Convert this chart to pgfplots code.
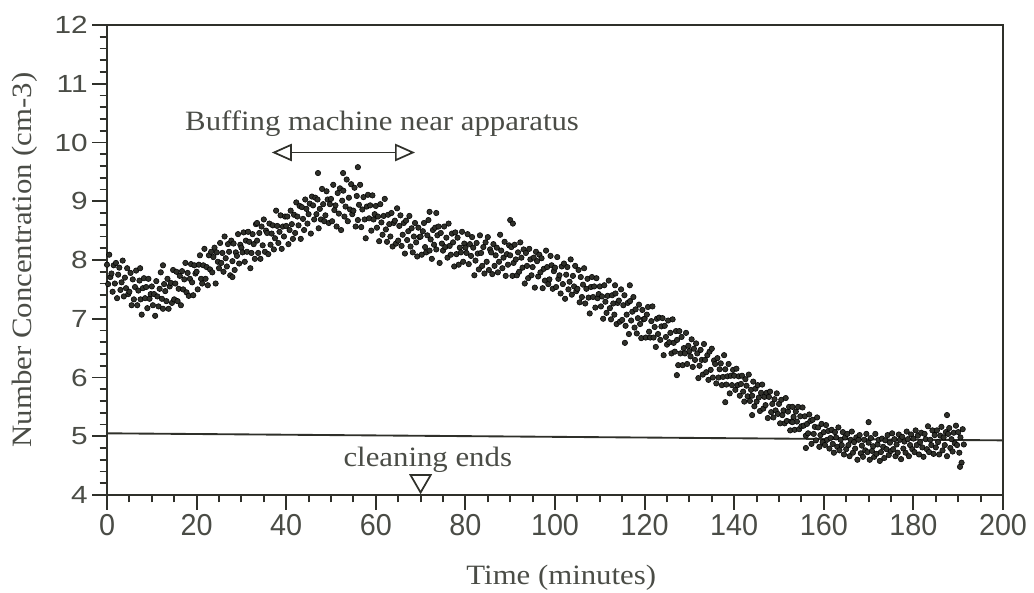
\documentclass[border=0pt]{standalone}
\usepackage{fontspec}
\setmainfont{Liberation Serif}
\newfontfamily\serifw{Liberation Serif}[FakeStretch=1.1]
\newfontfamily\yticksf{Liberation Sans}[FakeStretch=1.2]
\newfontfamily\xticksf{Liberation Sans}[FakeStretch=0.95]
\usepackage{pgfplots}
\pgfplotsset{compat=1.18}
\usetikzlibrary{arrows.meta}
\definecolor{ink}{HTML}{2F302A}
\definecolor{txt}{HTML}{4A4C46}
\begin{document}
\begin{tikzpicture}
\begin{axis}[
  at={(0,0)}, anchor=south west,
  width=672pt, height=352.5pt, scale only axis,
  xmin=0, xmax=200, ymin=4, ymax=12,
  xtick={0,20,...,200}, ytick={4,5,...,12},
  minor x tick num=3, minor y tick num=4,
  xtick pos=bottom, ytick pos=left,
  tick align=outside,
  major tick length=11pt, minor tick length=5.5pt,
  every tick/.style={ink, line width=1.4pt},
  axis line style={ink, line width=1.4pt},
  /pgf/number format/assume math mode=true,
  xticklabel style={font=\xticksf\fontsize{22.7}{24}\selectfont, text=txt},
  yticklabel style={font=\yticksf\fontsize{18.6}{20}\selectfont, text=txt},
  xlabel={Time (minutes)},
  ylabel={Number Concentration (cm-3)},
  label style={font=\serifw\fontsize{21}{23}\selectfont, text=txt},
  xlabel style={at={(axis description cs:0.507,-0.1766)}, anchor=center},
  ylabel style={at={(axis description cs:-0.0915,0.5)}, anchor=center, rotate=0},
  clip=false,
]
\addplot[ink, line width=1.4pt] coordinates {(0,5.05) (200,4.93)};
\addplot[only marks, mark=*, mark size=2.05pt, mark options={draw=none, fill=ink}] coordinates {
(0,7.92)(0.25,7.59)(0.5,8.09)(0.75,7.71)(1,7.77)(1.25,7.46)(1.5,7.91)(1.75,7.60)(2,7.95)(2.25,7.35)(2.5,7.75)(2.75,7.87)(3,7.49)(3.25,7.62)(3.5,7.99)(3.75,7.38)(4,7.70)(4.25,7.52)(4.5,7.86)(4.75,7.42)
(5,7.46)(5.25,7.78)(5.5,7.23)(5.75,7.67)(6,7.33)(6.25,7.54)(6.5,7.82)(6.75,7.23)(7,7.48)(7.25,7.65)(7.5,7.33)(7.75,7.07)(8,7.52)(8.25,7.69)(8.5,7.35)(8.75,7.54)(9,7.18)(9.25,7.68)(9.5,7.34)(9.75,7.42)
(10,7.55)(10.25,7.23)(10.5,7.42)(10.75,7.05)(11,7.64)(11.25,7.38)(11.5,7.21)(11.75,7.51)(12,7.79)(12.25,7.34)(12.5,7.17)(12.75,7.59)(13,7.47)(13.25,7.30)(13.5,7.68)(13.75,7.17)(14,7.55)(14.25,7.61)(14.5,7.27)(14.75,7.83)
(15,7.33)(15.25,7.60)(15.5,7.80)(15.75,7.30)(16,7.51)(16.25,7.73)(16.5,7.23)(16.75,7.81)(17,7.50)(17.25,7.67)(17.5,7.95)(17.75,7.45)(18,7.78)(18.25,7.39)(18.5,7.68)(18.75,7.93)(19,7.62)(19.25,7.40)(19.5,7.91)(19.75,7.77)
(20,7.80)(20.25,7.50)(20.5,7.92)(20.75,8.08)(21,7.68)(21.25,7.60)(21.5,7.91)(21.75,8.19)(22,7.68)(22.25,7.88)(22.5,7.57)(22.75,8.08)(23,7.84)(23.25,8.14)(23.5,7.79)(23.75,8.05)(24,8.21)(24.25,7.60)(24.5,8.13)(24.75,7.97)
(25,7.86)(25.25,8.29)(25.5,7.95)(25.75,8.12)(26,7.80)(26.25,8.40)(26.5,8.03)(26.75,7.89)(27,8.27)(27.25,8.14)(27.5,7.74)(27.75,8.33)(28,7.98)(28.25,8.28)(28.5,7.83)(28.75,8.13)(29,8.07)(29.25,8.44)(29.5,7.94)(29.75,8.26)
(30,8.21)(30.25,8.13)(30.5,8.47)(30.75,7.97)(31,8.33)(31.25,8.14)(31.5,8.48)(31.75,8.31)(32,7.86)(32.25,8.12)(32.5,8.44)(32.75,8.27)(33,8.02)(33.25,8.61)(33.5,8.33)(33.75,8.12)(34,8.46)(34.25,8.02)(34.5,8.57)(34.75,8.25)
(35,8.69)(35.25,8.14)(35.5,8.50)(35.75,8.46)(36,8.10)(36.25,8.62)(36.5,8.26)(36.75,8.45)(37,8.59)(37.25,8.18)(37.5,8.37)(37.75,8.84)(38,8.58)(38.25,8.29)(38.5,8.48)(38.75,8.76)(39,8.19)(39.25,8.57)(39.5,8.40)(39.75,8.74)
(40,8.58)(40.25,8.74)(40.5,8.27)(40.75,8.51)(41,8.84)(41.25,8.61)(41.5,8.36)(41.75,8.77)(42,8.46)(42.25,8.98)(42.5,8.74)(42.75,8.59)(43,8.92)(43.25,8.36)(43.5,8.90)(43.75,8.70)(44,8.51)(44.25,9.03)(44.5,8.87)(44.75,8.62)
(45,8.78)(45.25,8.96)(45.5,8.45)(45.75,9.08)(46,8.93)(46.25,8.69)(46.5,9.06)(46.75,8.78)(47,9.03)(47.25,8.54)(47.5,8.87)(47.75,8.69)(48,9.21)(48.25,8.95)(48.5,8.66)(48.75,8.76)(49,9.17)(49.25,9.03)(49.5,8.63)(49.75,8.95)
(50,9.04)(50.25,8.66)(50.5,9.28)(50.75,8.85)(51,8.93)(51.25,8.57)(51.5,9.14)(51.75,8.79)(52,9.22)(52.25,8.51)(52.5,9.01)(52.75,9.18)(53,8.74)(53.25,8.91)(53.5,9.37)(53.75,8.66)(54,9.06)(54.25,8.86)(54.5,9.29)(54.75,8.78)
(55,8.84)(55.25,9.23)(55.5,8.57)(55.75,9.09)(56,8.68)(56.25,8.94)(56.5,9.28)(56.75,8.56)(57,8.86)(57.25,9.07)(57.5,8.69)(57.75,8.37)(58,8.91)(58.25,9.11)(58.5,8.71)(58.75,8.93)(59,8.50)(59.25,9.10)(59.5,8.69)(59.75,8.78)
(60,8.92)(60.25,8.55)(60.5,8.74)(60.75,8.32)(61,8.95)(61.25,8.64)(61.5,8.43)(61.75,8.75)(62,9.04)(62.25,8.52)(62.5,8.31)(62.75,8.77)(63,8.61)(63.25,8.40)(63.5,8.80)(63.75,8.23)(64,8.63)(64.25,8.67)(64.5,8.28)(64.75,8.88)
(65,8.33)(65.25,8.58)(65.5,8.76)(65.75,8.24)(66,8.43)(66.25,8.63)(66.5,8.11)(66.75,8.67)(67,8.34)(67.25,8.49)(67.5,8.75)(67.75,8.23)(68,8.54)(68.25,8.13)(68.5,8.40)(68.75,8.63)(69,8.30)(69.25,8.06)(69.5,8.55)(69.75,8.39)
(70,8.40)(70.25,8.09)(70.5,8.49)(70.75,8.63)(71,8.22)(71.25,8.13)(71.5,8.42)(71.75,8.68)(72,8.16)(72.25,8.35)(72.5,8.02)(72.75,8.51)(73,8.26)(73.25,8.55)(73.5,8.18)(73.75,8.42)(74,8.57)(74.25,7.95)(74.5,8.46)(74.75,8.28)
(75,8.16)(75.25,8.57)(75.5,8.22)(75.75,8.38)(76,8.04)(76.25,8.62)(76.5,8.24)(76.75,8.09)(77,8.45)(77.25,8.30)(77.5,7.89)(77.75,8.47)(78,8.10)(78.25,8.38)(78.5,7.92)(78.75,8.21)(79,8.13)(79.25,8.48)(79.5,7.97)(79.75,8.28)
(80,8.21)(80.25,8.12)(80.5,8.44)(80.75,7.93)(81,8.27)(81.25,8.07)(81.5,8.39)(81.75,8.21)(82,7.74)(82.25,7.99)(82.5,8.29)(82.75,8.11)(83,7.84)(83.25,8.42)(83.5,8.12)(83.75,7.90)(84,8.22)(84.25,7.77)(84.5,8.30)(84.75,7.97)
(85,8.39)(85.25,7.83)(85.5,8.18)(85.75,8.13)(86,7.76)(86.25,8.27)(86.5,7.90)(86.75,8.08)(87,8.21)(87.25,7.79)(87.5,7.97)(87.75,8.43)(88,8.16)(88.25,7.86)(88.5,8.04)(88.75,8.31)(89,7.73)(89.25,8.10)(89.5,7.92)(89.75,8.25)
(90,8.08)(90.25,8.22)(90.5,7.73)(90.75,7.95)(91,8.26)(91.25,8.01)(91.5,7.74)(91.75,8.13)(92,7.80)(92.25,8.30)(92.5,8.04)(92.75,7.87)(93,8.18)(93.25,7.60)(93.5,8.12)(93.75,7.90)(94,7.69)(94.25,8.19)(94.5,8.01)(94.75,7.74)
(95,7.88)(95.25,8.04)(95.5,7.53)(95.75,8.14)(96,7.98)(96.25,7.72)(96.5,8.09)(96.75,7.79)(97,8.03)(97.25,7.52)(97.5,7.85)(97.75,7.65)(98,8.16)(98.25,7.88)(98.5,7.59)(98.75,7.67)(99,8.07)(99.25,7.91)(99.5,7.51)(99.75,7.81)
(100,7.87)(100.25,7.54)(100.5,8.05)(100.75,7.68)(101,7.74)(101.25,7.43)(101.5,7.89)(101.75,7.59)(102,7.94)(102.25,7.34)(102.5,7.75)(102.75,7.88)(103,7.50)(103.25,7.63)(103.5,8.01)(103.75,7.41)(104,7.73)(104.25,7.55)(104.5,7.90)(104.75,7.47)
(105,7.51)(105.25,7.83)(105.5,7.28)(105.75,7.71)(106,7.37)(106.25,7.58)(106.5,7.86)(106.75,7.26)(107,7.51)(107.25,7.68)(107.5,7.36)(107.75,7.09)(108,7.54)(108.25,7.71)(108.5,7.37)(108.75,7.55)(109,7.19)(109.25,7.69)(109.5,7.35)(109.75,7.42)
(110,7.55)(110.25,7.21)(110.5,7.38)(110.75,7.00)(111,7.57)(111.25,7.29)(111.5,7.10)(111.75,7.39)(112,7.65)(112.25,7.18)(112.5,6.99)(112.75,7.40)(113,7.26)(113.25,7.07)(113.5,7.43)(113.75,6.91)(114,7.27)(114.25,7.31)(114.5,6.95)(114.75,7.50)
(115,6.98)(115.25,7.23)(115.5,7.40)(115.75,6.88)(116,7.07)(116.25,7.27)(116.5,6.74)(116.75,7.30)(117,6.97)(117.25,7.12)(117.5,7.37)(117.75,6.85)(118,7.16)(118.25,6.75)(118.5,7.01)(118.75,7.24)(119,6.91)(119.25,6.67)(119.5,7.15)(119.75,6.99)
(120,7.00)(120.25,6.68)(120.5,7.07)(120.75,7.20)(121,6.78)(121.25,6.68)(121.5,6.96)(121.75,7.21)(122,6.68)(122.25,6.86)(122.5,6.52)(122.75,7.00)(123,6.74)(123.25,7.02)(123.5,6.64)(123.75,6.87)(124,7.01)(124.25,6.38)(124.5,6.88)(124.75,6.69)
(125,6.56)(125.25,6.97)(125.5,6.60)(125.75,6.76)(126,6.41)(126.25,6.99)(126.5,6.59)(126.75,6.44)(127,6.79)(127.25,6.64)(127.5,6.21)(127.75,6.79)(128,6.41)(128.25,6.69)(128.5,6.21)(128.75,6.50)(129,6.41)(129.25,6.76)(129.5,6.23)(129.75,6.54)
(130,6.45)(130.25,6.36)(130.5,6.65)(130.75,6.18)(131,6.49)(131.25,6.30)(131.5,6.58)(131.75,6.41)(132,5.99)(132.25,6.20)(132.5,6.47)(132.75,6.30)(133,6.05)(133.25,6.57)(133.5,6.30)(133.75,6.09)(134,6.38)(134.25,5.96)(134.5,6.44)(134.75,6.13)
(135,6.49)(135.25,6.00)(135.5,6.29)(135.75,6.23)(136,5.90)(136.25,6.33)(136.5,6.00)(136.75,6.14)(137,6.24)(137.25,5.87)(137.5,6.01)(137.75,6.38)(138,6.14)(138.25,5.88)(138.5,6.02)(138.75,6.23)(139,5.73)(139.25,6.03)(139.5,5.87)(139.75,6.13)
(140,6.03)(140.25,5.79)(140.5,6.15)(140.75,5.87)(141,6.02)(141.25,5.69)(141.5,5.89)(141.75,6.03)(142,5.76)(142.25,5.59)(142.5,5.97)(142.75,5.86)(143,5.68)(143.25,6.05)(143.5,5.60)(143.75,5.79)(144,5.69)(144.25,5.93)(144.5,5.51)(144.75,5.81)
(145,5.59)(145.25,5.87)(145.5,5.66)(145.75,5.43)(146,5.74)(146.25,5.88)(146.5,5.47)(146.75,5.67)(147,5.53)(147.25,5.74)(147.5,5.31)(147.75,5.67)(148,5.76)(148.25,5.41)(148.5,5.55)(148.75,5.32)(149,5.63)(149.25,5.44)(149.5,5.73)(149.75,5.38)
(150,5.55)(150.25,5.22)(150.5,5.62)(150.75,5.36)(151,5.44)(151.25,5.22)(151.5,5.65)(151.75,5.26)(152,5.42)(152.25,5.50)(152.5,5.10)(152.75,5.25)(153,5.50)(153.25,5.33)(153.5,5.11)(153.75,5.42)(154,5.25)(154.25,5.50)(154.5,5.12)(154.75,5.34)
(155,5.17)(155.25,5.49)(155.5,5.18)(155.75,5.34)(156,5.01)(156.25,5.21)(156.5,5.05)(156.75,5.37)(157,5.26)(157.25,4.87)(157.5,5.28)(157.75,5.04)(158,5.16)(158.25,4.93)(158.5,5.32)(158.75,5.15)(159,4.82)(159.25,5.02)(159.5,5.21)(159.75,4.90)
(160,5.07)(160.25,4.85)(160.5,5.19)(160.75,4.94)(161,5.09)(161.25,4.79)(161.5,4.97)(161.75,5.11)(162,4.87)(162.25,4.72)(162.5,5.07)(162.75,4.98)(163,4.82)(163.25,5.15)(163.5,4.76)(163.75,4.94)(164,4.85)(164.25,5.07)(164.5,4.69)(164.75,4.98)
(165,4.78)(165.25,5.04)(165.5,4.85)(165.75,4.66)(166,4.94)(166.25,5.08)(166.5,4.72)(166.75,4.90)(167,4.79)(167.25,4.98)(167.5,4.60)(167.75,4.94)(168,5.02)(168.25,4.71)(168.5,4.84)(168.75,4.65)(169,4.94)(169.25,4.76)(169.5,5.04)(169.75,4.73)
(170,4.89)(170.25,4.60)(170.5,4.97)(170.75,4.75)(171,4.83)(171.25,4.65)(171.5,5.04)(171.75,4.70)(172,4.86)(172.25,4.94)(172.5,4.58)(172.75,4.73)(173,4.96)(173.25,4.82)(173.5,4.63)(173.75,4.93)(174,4.78)(174.25,5.02)(174.5,4.68)(174.75,4.89)
(175,4.75)(175.25,5.05)(175.5,4.78)(175.75,4.95)(176,4.66)(176.25,4.86)(176.5,4.72)(176.75,5.03)(177,4.94)(177.25,4.61)(177.5,4.99)(177.75,4.79)(178,4.91)(178.25,4.72)(178.5,5.08)(178.75,4.95)(179,4.66)(179.25,4.85)(179.5,5.03)(179.75,4.78)
(180,4.96)(180.25,4.73)(180.5,5.10)(180.75,4.85)(181,5.01)(181.25,4.69)(181.5,4.90)(181.75,5.06)(182,4.81)(182.25,4.65)(182.5,5.04)(182.75,4.95)(183,4.78)(183.25,5.17)(183.5,4.73)(183.75,4.94)(184,4.85)(184.25,5.10)(184.5,4.70)(184.75,5.02)
(185,4.81)(185.25,5.10)(185.5,4.90)(185.75,4.69)(186,5.01)(186.25,5.16)(186.5,4.76)(186.75,4.98)(187,4.85)(187.25,5.07)(187.5,4.66)(187.75,5.04)(188,5.14)(188.25,4.80)(188.5,4.95)(188.75,4.74)(189,5.06)(189.25,4.88)(189.5,5.18)(189.75,4.85)
(190,5.07)(190.25,4.72)(190.5,4.98)(190.75,4.55)(191,5.12)(191.25,4.86)
(47.1,9.48)(52.7,9.48)(56,9.58)(72,8.82)(73.5,8.80)(90,8.68)(90.6,8.62)(113.4,7.57)(116.7,7.57)(115.6,6.59)(127.2,6.04)(138,5.58)(144,5.36)(153,5.24)(156,4.80)(170,5.24)(187.5,5.36)(190.4,4.48)(7.4,7.86)(12.5,7.91)(28,7.71)(33.5,8.63)
};
\addplot[ink, line width=1.3pt, {Triangle[open, length=15pt, width=13pt]}-{Triangle[open, length=15pt, width=13pt]}] coordinates {(36.8,9.83) (68.75,9.83)};
\addplot[only marks, mark=triangle, mark size=8.7pt, mark options={ink, line width=1.3pt, fill=white, rotate=180}] coordinates {(70,4.24)};
\node[font=\serifw\fontsize{21}{23}\selectfont, text=txt, anchor=base] at (axis cs:61.4,10.21) {Buffing machine near apparatus};
\node[font=\serifw\fontsize{21}{23}\selectfont, text=txt, anchor=base] at (axis cs:71.6,4.48) {cleaning ends};
\end{axis}
\pgfresetboundingbox
\path[use as bounding box] (-80.25pt,-72.75pt) rectangle (695.25pt,371.25pt);
\end{tikzpicture}
\end{document}
